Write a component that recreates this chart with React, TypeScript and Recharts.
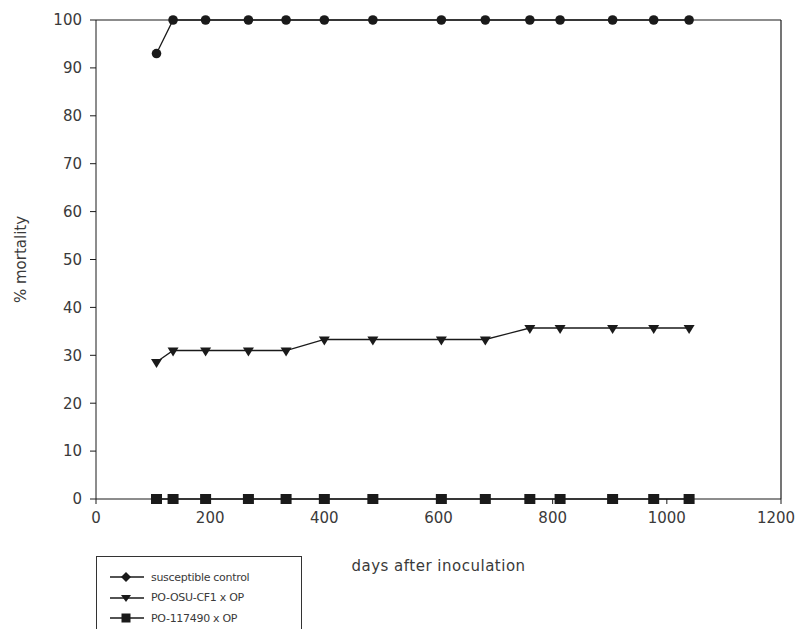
import React from "react";
import { LineChart, Line, XAxis, YAxis, ReferenceLine } from "recharts";

const days = [106, 135, 192, 267, 333, 400, 485, 605, 682, 760, 813, 905, 977, 1039];
const susceptibleControl = [93, 100, 100, 100, 100, 100, 100, 100, 100, 100, 100, 100, 100, 100];
const poOsuCf1 = [28.6, 31.0, 31.0, 31.0, 31.0, 33.3, 33.3, 33.3, 33.3, 35.7, 35.7, 35.7, 35.7, 35.7];
const po117490 = [0, 0, 0, 0, 0, 0, 0, 0, 0, 0, 0, 0, 0, 0];
const seriesNames = ["susceptible control", "PO-OSU-CF1 x OP", "PO-117490 x OP"];
const xTicks = [0, 200, 400, 600, 800, 1000, 1200];
const yTicks = [0, 10, 20, 30, 40, 50, 60, 70, 80, 90, 100];

const data = days.map((d, i) => ({
  day: d,
  s1: susceptibleControl[i],
  s2: poOsuCf1[i],
  s3: po117490[i],
}));

const INK = "#1a1a1a";
const TEXT = "#3a3a3a";
const FONT = "'DejaVu Sans', 'Liberation Sans', sans-serif";

const CircleDot = (p: any) => {
  const { cx, cy, index } = p;
  if (cx == null || cy == null) return <g key={`c${index}`} />;
  return <circle key={`c${index}`} cx={cx} cy={cy} r={4.8} fill={INK} />;
};
const TriDot = (p: any) => {
  const { cx, cy, index } = p;
  if (cx == null || cy == null) return <g key={`t${index}`} />;
  return (
    <polygon
      key={`t${index}`}
      points={`${cx - 5.5},${cy - 3} ${cx + 5.5},${cy - 3} ${cx},${cy + 6}`}
      fill={INK}
    />
  );
};
const SqDot = (p: any) => {
  const { cx, cy, index } = p;
  if (cx == null || cy == null) return <g key={`s${index}`} />;
  return <rect key={`s${index}`} x={cx - 5.5} y={cy - 5} width={11} height={10} fill={INK} />;
};

const XTick = (p: any) => {
  const { x, y, payload } = p;
  const last = payload.value === xTicks[xTicks.length - 1];
  return (
    <text
      x={last ? x - 5 : x}
      y={y}
      dy="0.75em"
      textAnchor="middle"
      fill={TEXT}
      fontSize={15}
      fontFamily={FONT}
    >
      {payload.value}
    </text>
  );
};

const legendIcon = (i: number) => {
  const marker =
    i === 0 ? (
      <polygon points="16,2 21,7 16,12 11,7" fill={INK} />
    ) : i === 1 ? (
      <polygon points="11,4 21,4 16,11" fill={INK} />
    ) : (
      <rect x={11.5} y={2.5} width={9} height={9} fill={INK} />
    );
  return (
    <svg width={34} height={14} style={{ display: "block" }}>
      <line x1={0} y1={7} x2={34} y2={7} stroke={INK} strokeWidth={1.3} />
      {marker}
    </svg>
  );
};

const LegendBox = () => (
  <div
    style={{
      position: "absolute",
      left: 88,
      top: 548,
      width: 206,
      height: 95,
      border: "1px solid #333",
      boxSizing: "border-box",
      background: "#fff",
      paddingTop: 10,
      paddingLeft: 13,
      fontFamily: FONT,
      fontSize: 11,
      color: TEXT,
      letterSpacing: "-0.3px",
    }}
  >
    {seriesNames.map((n, i) => (
      <div key={n} style={{ display: "flex", alignItems: "center", height: 20.5 }}>
        {legendIcon(i)}
        <span style={{ marginLeft: 7, whiteSpace: "nowrap" }}>{n}</span>
      </div>
    ))}
  </div>
);

export default function App() {
  return (
    <div
      style={{
        position: "relative",
        width: 796,
        height: 629,
        overflow: "hidden",
        marginBottom: -8,
      }}
    >
      <LineChart
        width={796}
        height={629}
        data={data}
        margin={{ top: 12, right: 23, bottom: 58, left: 0 }}
      >
        <XAxis
          dataKey="day"
          type="number"
          domain={[0, 1200]}
          ticks={xTicks}
          tickSize={5}
          tickMargin={8}
          height={80}
          stroke={INK}
          tick={XTick}
          label={{
            value: "days after inoculation",
            position: "insideBottom",
            offset: 8,
            style: { fill: TEXT, fontSize: 15, fontFamily: FONT, letterSpacing: "0.5px" },
          }}
        />
        <YAxis
          type="number"
          domain={[0, 100]}
          ticks={yTicks}
          width={88}
          tickSize={6}
          tickMargin={8}
          stroke={INK}
          tick={{ fill: TEXT, fontSize: 15, fontFamily: FONT }}
          label={{
            value: "% mortality",
            angle: -90,
            position: "insideLeft",
            offset: 13,
            style: { fill: TEXT, fontSize: 15, fontFamily: FONT, textAnchor: "middle" },
          }}
        />
        <ReferenceLine y={100} stroke={INK} strokeWidth={1.2} />
        <ReferenceLine x={1200} stroke={INK} strokeWidth={1.2} />
        <Line
          dataKey="s3"
          name={seriesNames[2]}
          stroke={INK}
          strokeWidth={1.3}
          dot={SqDot}
          isAnimationActive={false}
        />
        <Line
          dataKey="s2"
          name={seriesNames[1]}
          stroke={INK}
          strokeWidth={1.3}
          dot={TriDot}
          isAnimationActive={false}
        />
        <Line
          dataKey="s1"
          name={seriesNames[0]}
          stroke={INK}
          strokeWidth={1.3}
          dot={CircleDot}
          isAnimationActive={false}
        />
      </LineChart>
      <LegendBox />
    </div>
  );
}
